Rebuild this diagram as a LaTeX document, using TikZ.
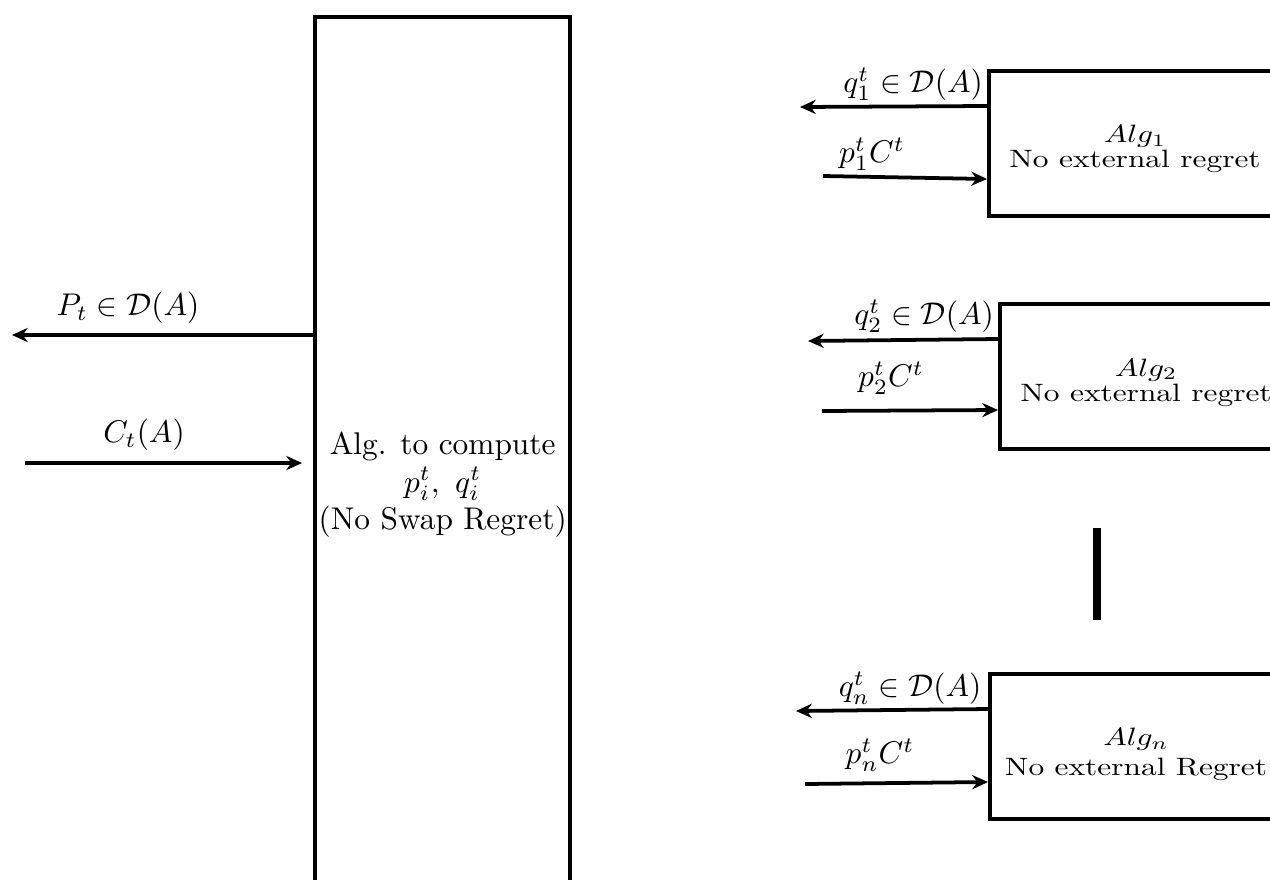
\documentclass[tikz,border=0pt]{standalone}
\usepackage{amsmath,amssymb}
\usepackage{tikz}
\usetikzlibrary{positioning, arrows.meta}

\begin{document}
\begin{tikzpicture}[
        x=0.0112cm, y=-0.0112cm,
        bigbox/.style={rectangle, draw, line width=1.3pt, minimum width=2.86cm,
            minimum height=10.8cm, anchor=north west, inner sep=0pt},
        algbox/.style={rectangle, draw, line width=1.3pt, minimum width=3.27cm,
            minimum height=1.62cm, anchor=north west, inner sep=0pt},
        boxtext/.style={align=center, inner sep=1pt},
        algtext/.style={boxtext, yscale=0.8, transform shape},
        arrow/.style={-{Stealth[length=5pt, width=4.5pt, inset=1.6pt]}, line width=1.2pt},
    ]
    \useasboundingbox (0,0) rectangle (1270,879);
    \clip (0,0) rectangle (1270,879);

    % main algorithm
    \node[bigbox] (swap) at (313,15) {};
    \node[boxtext] (swaptxt) at ([yshift=1.6mm]swap.center) {Alg. to compute\\$p_i^t,\ q_i^t$\\(No Swap Regret)};
    \coordinate (pout) at (12,335);
    \coordinate (cin) at (25,463);
    \draw[arrow] (swap.north west |- 0,335) -- (pout);
    \draw[arrow] (cin) -- (302,463);
    \node (plabel) at (128,308) {$P_t \in \mathcal{D}(A)$};
    \node (clabel) at (144,435) {$C_t(A)$};

    % sub algorithms
    \node[algbox] (alg1) at (987,69) {};
    \node[algbox] (alg2) at (998,302) {};
    \node[algbox] (algn) at (988,672) {};
    \node[algtext] (txt1) at ([yshift=-0.6mm]alg1.center) {$Alg_1$\\[-2pt]No external regret};
    \node[algtext] (txt2) at ([yshift=-0.7mm]alg2.center) {$Alg_2$\\[-2pt]No external regret};
    \node[algtext] (txtn) at ([yshift=-0.9mm]algn.center) {$Alg_n$\\No external Regret};

    \coordinate (q1out) at (800,107);
    \coordinate (p1in) at (823,176);
    \coordinate (q2out) at (808,341);
    \coordinate (p2in) at (822,411);
    \coordinate (qnout) at (796,711);
    \coordinate (pnin) at (805,784);

    \draw[arrow] (alg1.west |- 0,106) -- (q1out);
    \draw[arrow] (p1in) -- (alg1.west |- 0,179);
    \draw[arrow] (alg2.west |- 0,339) -- (q2out);
    \draw[arrow] (p2in) -- (alg2.west |- 0,410);
    \draw[arrow] (algn.west |- 0,709) -- (qnout);
    \draw[arrow] (pnin) -- (algn.west |- 0,782);

    \node (q1label) at (913,84) {$q_1^t \in \mathcal{D}(A)$};
    \node (p1label) at (872,154) {$p_1^t C^t$};
    \node (q2label) at (924,316) {$q_2^t \in \mathcal{D}(A)$};
    \node (p2label) at (891,378) {$p_2^t C^t$};
    \node (qnlabel) at (910,688) {$q_n^t \in \mathcal{D}(A)$};
    \node (pnlabel) at (880,755) {$p_n^t C^t$};

    % dots between boxes
    \coordinate (bartop) at (1097,528);
    \coordinate (barbot) at (1097,620);
    \draw[line width=2.5pt] (bartop) -- (barbot);
\end{tikzpicture}
\end{document}
